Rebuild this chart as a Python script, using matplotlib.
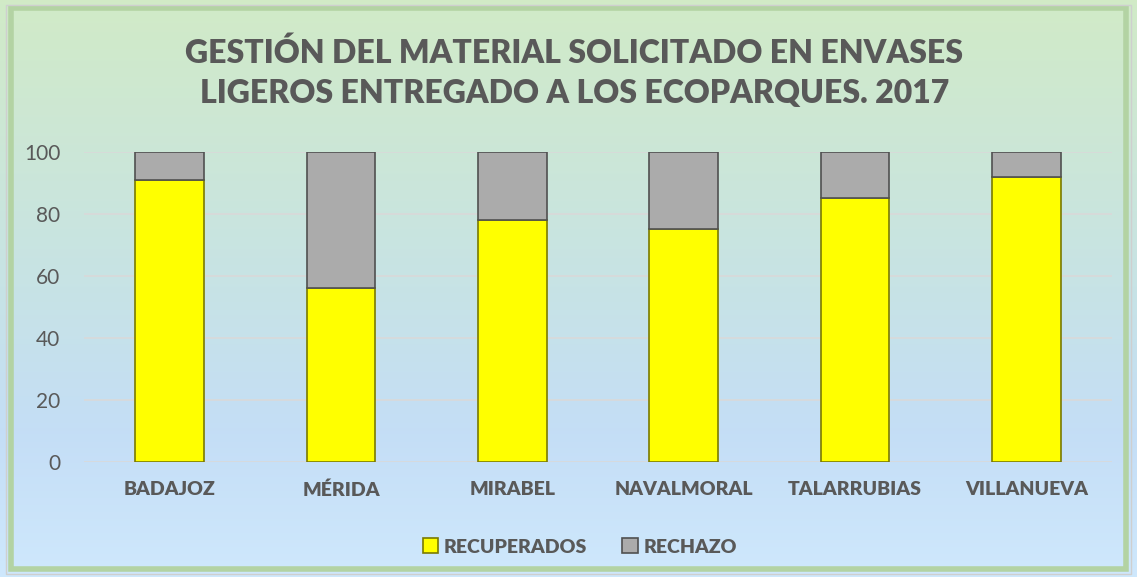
import numpy as np
import matplotlib.pyplot as plt
from matplotlib.patches import Rectangle

plt.rcParams['font.family'] = ['Lato', 'DejaVu Sans']

municipios = ['BADAJOZ', 'MÉRIDA', 'MIRABEL', 'NAVALMORAL', 'TALARRUBIAS', 'VILLANUEVA']
recuperados = [91, 56, 78, 75, 85, 92]
rechazo = [9, 44, 22, 25, 15, 8]

gris_texto = '#595959'

fig = plt.figure(figsize=(11.37, 5.77), dpi=100)

# fondo degradado verde -> turquesa -> azul
bg = fig.add_axes([0, 0, 1, 1], zorder=0)
pos = np.linspace(0, 1, 300)
stops = [0.0, 0.5, 0.75, 1.0]
cols = np.array([[0.82, 0.92, 0.78],
                 [0.78, 0.89, 0.90],
                 [0.77, 0.87, 0.965],
                 [0.81, 0.91, 0.99]])
img = np.stack([np.interp(pos, stops, cols[:, i]) for i in range(3)], axis=-1)[:, None, :]
bg.imshow(img, aspect='auto', extent=[0, 1, 0, 1])
bg.set_xlim(0, 1)
bg.set_ylim(0, 1)
bg.axis('off')
bg.add_patch(Rectangle((0.0095, 0.014), 0.981, 0.972, fill=False, edgecolor='#b3d3a3', linewidth=4))
bg.add_patch(Rectangle((0.005, 0.006), 0.99, 0.986, fill=False, edgecolor='#cfcfcf', linewidth=1))

ax = fig.add_axes([0.0739, 0.1993, 0.9041, 0.5373], zorder=1)
ax.patch.set_alpha(0)
x = np.arange(len(municipios))
w = 0.4
ax.bar(x, recuperados, w, color='#ffff00', edgecolor='#7a7a00', linewidth=1.2,
       label='RECUPERADOS', zorder=3)
ax.bar(x, rechazo, w, bottom=recuperados, color='#ababab', edgecolor='#505050', linewidth=1.2,
       label='RECHAZO', zorder=3)

ax.set_xlim(-0.5, len(municipios) - 0.5)
ax.set_ylim(0, 100)
ax.set_yticks(range(0, 101, 20))
ax.grid(axis='y', color='#d9d9d9', linewidth=1.2, zorder=0)
for s in ax.spines.values():
    s.set_visible(False)
ax.tick_params(length=0)
ax.tick_params(axis='y', labelsize=15, labelcolor=gris_texto, pad=17)
ax.set_xticks(x)
ax.set_xticklabels(municipios, fontsize=14, fontweight='heavy', color=gris_texto)
ax.tick_params(axis='x', pad=14)

fig.text(0.505, 0.874, 'GESTIÓN DEL MATERIAL SOLICITADO EN ENVASES\nLIGEROS ENTREGADO A LOS ECOPARQUES. 2017',
         ha='center', va='center', fontsize=23, fontweight='heavy', color=gris_texto, linespacing=1.45)

leg = fig.legend(loc='center', bbox_to_anchor=(0.51, 0.052), ncol=2, frameon=False,
                 fontsize=14, handlelength=0.8, handleheight=0.8, handletextpad=0.3, columnspacing=1.8)
for t in leg.get_texts():
    t.set_color(gris_texto)
    t.set_fontweight('heavy')

fig.savefig('out.png', dpi=100)
